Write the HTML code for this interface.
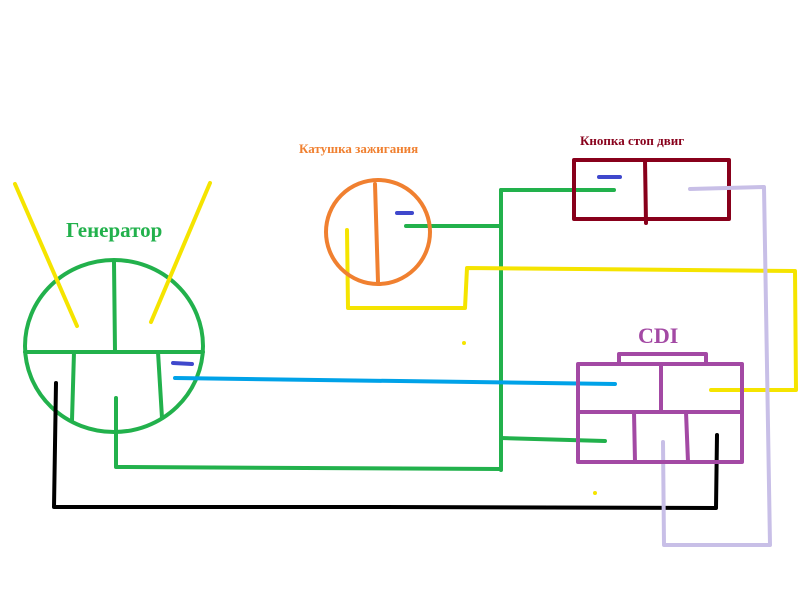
<!DOCTYPE html>
<html><head><meta charset="utf-8"><style>body{margin:0;background:#fff}svg{display:block}</style></head><body>
<svg width="800" height="600" viewBox="0 0 800 600" xmlns="http://www.w3.org/2000/svg" fill="none" stroke-width="4" stroke-linecap="round" stroke-linejoin="round">
<!-- generator -->
<ellipse cx="114" cy="346" rx="89" ry="86" stroke="#22b14c"/>
<g stroke="#22b14c">
<line x1="114" y1="262" x2="115" y2="352"/>
<line x1="25" y1="352" x2="203" y2="352"/>
<line x1="74" y1="352" x2="72" y2="420"/>
<line x1="158" y1="352" x2="162" y2="418"/>
<polyline points="116,398 116,467 501,469"/>
<line x1="501" y1="190" x2="501" y2="470"/>
<line x1="501" y1="190" x2="614" y2="190"/>
<line x1="501" y1="438" x2="605" y2="441"/>
<line x1="406" y1="226" x2="500" y2="226"/>
</g>
<g stroke="#f5e400">
<line x1="15" y1="184" x2="77" y2="326"/>
<line x1="210" y1="183" x2="151" y2="322"/>
<polyline points="347,230 348,308 465,308 467,268 795,271 796,390 711,390"/>
</g>
<circle cx="464" cy="343" r="2" fill="#f5e400" stroke="none"/>
<circle cx="595" cy="493" r="2" fill="#f5e400" stroke="none"/>
<g stroke="#3f48cc">
<line x1="173" y1="363" x2="192" y2="364"/>
<line x1="397" y1="213" x2="412" y2="213"/>
<line x1="599" y1="177" x2="620" y2="177"/>
</g>
<line x1="175" y1="378" x2="615" y2="384" stroke="#00a2e8"/>
<polyline points="56,383 54,507 385,507 716,508 717,435" stroke="#000"/>
<!-- coil -->
<circle cx="378" cy="232" r="52" stroke="#f08030"/>
<line x1="375" y1="184" x2="378" y2="282" stroke="#f08030"/>
<!-- button -->
<rect x="574" y="160" width="155" height="59" stroke="#88001b"/>
<line x1="645" y1="160" x2="646" y2="223" stroke="#88001b"/>
<polyline points="690,189 764,187 770,545 664,545 663,442" stroke="#c8bfe7"/>
<!-- CDI -->
<g stroke="#a349a4">
<rect x="578" y="364" width="164" height="98"/>
<rect x="619" y="354" width="87" height="10"/>
<line x1="578" y1="412" x2="742" y2="412"/>
<line x1="661" y1="364" x2="661" y2="412"/>
<line x1="634" y1="412" x2="635" y2="462"/>
<line x1="686" y1="412" x2="688" y2="462"/>
</g>
<g stroke="none" font-family="Liberation Serif, serif" font-weight="bold">
<text x="66" y="237" font-size="21" fill="#22b14c">Генератор</text>
<text x="299" y="153" font-size="13" fill="#f08030">Катушка зажигания</text>
<text x="580" y="145" font-size="13" fill="#88001b">Кнопка стоп двиг</text>
<text x="638" y="343" font-size="22" fill="#a349a4">CDI</text>
</g>
</svg>
</body></html>
